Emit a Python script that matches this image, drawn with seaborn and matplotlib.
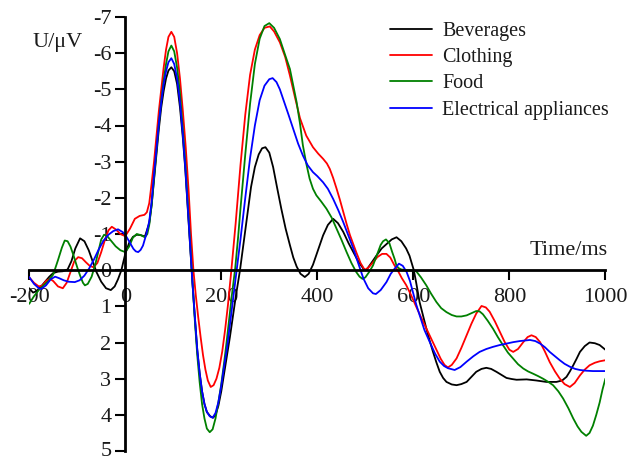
import matplotlib
matplotlib.use("Agg")
import matplotlib.pyplot as plt
import matplotlib.transforms as mtransforms
import seaborn as sns
import pandas as pd

# ---------------- data ----------------
categories = ["Beverages", "Clothing", "Food", "Electrical appliances"]
colors = ["#000000", "#ff0000", "#008000", "#0000ff"]

bev_t = [-200, -192, -185, -175, -167, -158, -150, -140, -130, -120, -112, -104, -94, -85, -76, -68, -60, -50, -40, -30,
         -22, -15, -8, 0, 8, 16, 24, 32, 41, 50, 55, 60, 65, 70, 75, 80, 85, 90, 96, 102, 108, 114, 120, 125, 130, 135,
         140, 145, 150, 155, 160, 165, 170, 177, 183, 188, 194, 200, 206, 212, 218, 224, 230, 239, 246, 254, 262, 270,
         278, 285, 292, 300, 308, 316, 325, 334, 343, 350, 357, 365, 374, 382, 391, 400, 412, 422, 433, 443, 454, 465,
         475, 485, 496, 502, 510, 523, 534, 544, 555, 565, 575, 585, 592, 601, 606, 613, 620, 627, 634, 641, 648, 655,
         662, 669, 680, 690, 700, 711, 721, 731, 742, 752, 762, 773, 784, 794, 805, 815, 836, 856, 877, 898, 910, 919,
         926, 933, 940, 947, 957, 967, 978, 988, 1000]
bev_v = [0.5, 0.62, 0.58, 0.45, 0.32, 0.18, 0.08, 0.04, 0.03, -0.02, -0.25, -0.6, -0.88, -0.8, -0.55, -0.25, 0.05, 0.32,
         0.5, 0.55, 0.45, 0.25, 0.0, -0.45, -0.75, -0.92, -0.98, -0.97, -0.93, -1.3, -1.8, -2.5, -3.2, -3.9, -4.5,
         -4.95, -5.3, -5.52, -5.61, -5.5, -5.15, -4.5, -3.65, -2.8, -1.75, -0.7, 0.35, 1.3, 2.2, 2.85, 3.35, 3.7, 3.92,
         4.04, 4.08, 4.0, 3.75, 3.35, 2.85, 2.35, 1.85, 1.3, 0.75, 0.0, -0.7, -1.5, -2.3, -2.85, -3.2, -3.37, -3.4,
         -3.25, -2.85, -2.3, -1.7, -1.15, -0.69, -0.35, -0.1, 0.1, 0.19, 0.1, -0.15, -0.5, -0.96, -1.25, -1.42, -1.3,
         -1.06, -0.75, -0.5, -0.25, -0.04, 0.0, -0.15, -0.4, -0.6, -0.72, -0.85, -0.91, -0.8, -0.6, -0.4, 0.0, 0.35,
         0.88, 1.25, 1.61, 1.95, 2.26, 2.55, 2.81, 2.98, 3.09, 3.16, 3.18, 3.15, 3.09, 2.95, 2.81, 2.73, 2.7, 2.73,
         2.81, 2.9, 2.98, 3.01, 3.03, 3.02, 3.05, 3.09, 3.09, 3.05, 2.95, 2.8, 2.63, 2.45, 2.26, 2.1, 2.0, 2.02, 2.07,
         2.2]

clo_t = [-200, -190, -180, -172, -165, -157, -150, -140, -130, -122, -114, -106, -98, -90, -82, -74, -66, -58, -50, -42,
         -35, -28, -20, -10, 0, 10, 20, 30, 40, 45, 50, 55, 60, 65, 70, 75, 80, 85, 90, 96, 102, 108, 114, 120, 126, 132,
         137, 142, 147, 152, 157, 162, 167, 172, 178, 184, 190, 196, 202, 208, 214, 221, 230, 240, 250, 260, 270, 280,
         290, 301, 310, 322, 333, 343, 354, 364, 377, 391, 402, 412, 420, 426, 433, 440, 447, 454, 461, 468, 475, 481,
         490, 499, 507, 515, 525, 535, 544, 552, 560, 568, 576, 585, 595, 606, 616, 627, 638, 648, 657, 665, 672, 680,
         690, 700, 711, 721, 731, 742, 751, 759, 770, 780, 790, 800, 808, 818, 829, 838, 846, 855, 864, 874, 884, 895,
         905, 915, 926, 936, 947, 957, 967, 978, 988, 1000]
clo_v = [0.2, 0.35, 0.45, 0.42, 0.3, 0.24, 0.3, 0.45, 0.5, 0.35, 0.05, -0.25, -0.36, -0.33, -0.22, -0.12, -0.08, -0.2,
         -0.5, -0.85, -1.1, -1.2, -1.13, -1.0, -0.94, -1.15, -1.42, -1.5, -1.53, -1.6, -1.85, -2.4, -3.0, -3.7, -4.4,
         -5.0, -5.6, -6.1, -6.45, -6.59, -6.45, -6.0, -5.3, -4.4, -3.4, -2.2, -1.0, 0.0, 0.7, 1.3, 1.85, 2.35, 2.75,
         3.05, 3.23, 3.18, 3.0, 2.7, 2.25, 1.65, 0.95, 0.0, -1.3, -2.9, -4.3, -5.4, -6.1, -6.5, -6.7, -6.74, -6.6, -6.3,
         -5.9, -5.38, -4.75, -4.2, -3.72, -3.4, -3.22, -3.08, -2.95, -2.8, -2.55, -2.26, -1.95, -1.61, -1.28, -0.97,
         -0.72, -0.5, -0.2, 0.0, -0.08, -0.2, -0.36, -0.45, -0.45, -0.35, -0.15, 0.02, 0.22, 0.41, 0.68, 1.01, 1.3,
         1.61, 1.92, 2.2, 2.45, 2.62, 2.69, 2.62, 2.44, 2.15, 1.8, 1.48, 1.2, 0.99, 1.03, 1.15, 1.42, 1.7, 1.98, 2.2,
         2.26, 2.18, 1.99, 1.85, 1.8, 1.85, 1.99, 2.25, 2.54, 2.8, 3.0, 3.15, 3.23, 3.12, 2.91, 2.75, 2.63, 2.56, 2.52,
         2.49]

foo_t = [-200, -190, -180, -170, -160, -150, -140, -132, -126, -120, -114, -108, -100, -94, -88, -84, -78, -70, -62, -56,
         -50, -44, -38, -30, -20, -10, 0, 8, 16, 24, 32, 41, 46, 50, 55, 60, 65, 70, 75, 80, 85, 90, 96, 102, 108, 114,
         120, 125, 130, 135, 140, 145, 150, 155, 160, 165, 170, 176, 182, 188, 194, 200, 206, 211, 216, 222, 229, 235,
         240, 250, 260, 270, 280, 290, 300, 310, 322, 333, 343, 350, 357, 364, 370, 377, 384, 391, 398, 408, 419, 430,
         440, 450, 461, 471, 481, 488, 494, 500, 508, 516, 525, 532, 537, 543, 550, 556, 561, 565, 570, 575, 585, 595,
         606, 616, 627, 637, 648, 658, 669, 680, 690, 700, 711, 721, 731, 738, 745, 755, 766, 776, 787, 797, 808, 818,
         829, 839, 849, 860, 870, 880, 891, 902, 912, 923, 933, 942, 950, 960, 967, 974, 981, 988, 994, 1000]
foo_v = [0.93, 0.72, 0.55, 0.42, 0.3, 0.12, -0.28, -0.62, -0.82, -0.8, -0.65, -0.42, -0.08, 0.15, 0.35, 0.42, 0.38,
         0.18, -0.18, -0.52, -0.85, -0.98, -0.95, -0.82, -0.66, -0.55, -0.5, -0.65, -0.9, -1.0, -0.97, -0.91, -1.0,
         -1.25, -1.8, -2.55, -3.3, -4.05, -4.7, -5.25, -5.7, -6.05, -6.21, -6.05, -5.6, -4.9, -3.9, -3.0, -1.9, -0.75,
         0.35, 1.4, 2.35, 3.1, 3.7, 4.1, 4.38, 4.48, 4.4, 4.1, 3.65, 3.15, 2.55, 2.0, 1.4, 0.7, -0.05, -0.9, -1.7, -3.2,
         -4.6, -5.7, -6.4, -6.75, -6.83, -6.7, -6.39, -5.95, -5.56, -5.1, -4.64, -4.05, -3.45, -2.95, -2.53, -2.25,
         -2.07, -1.9, -1.7, -1.45, -1.15, -0.85, -0.5, -0.2, 0.05, 0.18, 0.24, 0.2, 0.05, -0.13, -0.45, -0.7, -0.8,
         -0.85, -0.75, -0.5, -0.31, -0.12, -0.05, -0.02, 0.0, 0.0, 0.03, 0.2, 0.42, 0.65, 0.88, 1.05, 1.16, 1.24, 1.28,
         1.28, 1.25, 1.19, 1.13, 1.14, 1.22, 1.4, 1.62, 1.85, 2.08, 2.28, 2.45, 2.6, 2.72, 2.8, 2.86, 2.93, 3.0, 3.08,
         3.18, 3.35, 3.55, 3.82, 4.1, 4.32, 4.47, 4.58, 4.5, 4.3, 4.0, 3.66, 3.3, 3.0]

ele_t = [-200, -190, -180, -175, -165, -155, -146, -138, -128, -118, -105, -95, -85, -75, -65, -55, -45, -35, -25, -15,
         -5, 0, 8, 17, 22, 27, 32, 37, 44, 50, 55, 60, 65, 70, 75, 80, 85, 90, 96, 102, 108, 114, 120, 125, 130, 135,
         140, 145, 150, 155, 160, 165, 170, 176, 182, 188, 194, 200, 206, 212, 218, 224, 233, 240, 250, 260, 270, 280,
         290, 300, 307, 315, 322, 329, 340, 350, 360, 370, 380, 391, 400, 412, 422, 433, 444, 454, 465, 475, 485, 496,
         506, 516, 522, 532, 544, 553, 561, 570, 578, 586, 593, 599, 606, 613, 623, 634, 645, 655, 664, 672, 686, 698,
         711, 725, 738, 752, 766, 780, 794, 808, 822, 843, 854, 864, 874, 884, 895, 905, 915, 926, 937, 947, 960, 974,
         1000]
ele_v = [0.19, 0.38, 0.5, 0.52, 0.42, 0.25, 0.18, 0.22, 0.28, 0.32, 0.33, 0.28, 0.15, -0.05, -0.3, -0.58, -0.82, -0.98,
         -1.08, -1.13, -1.05, -0.98, -0.8, -0.59, -0.52, -0.5, -0.56, -0.68, -1.0, -1.35, -1.9, -2.65, -3.35, -4.05,
         -4.65, -5.15, -5.5, -5.75, -5.86, -5.7, -5.3, -4.65, -3.75, -2.85, -1.8, -0.7, 0.35, 1.3, 2.2, 2.85, 3.35,
         3.7, 3.92, 4.04, 4.08, 3.95, 3.65, 3.2, 2.65, 2.15, 1.5, 0.85, -0.1, -0.85, -2.0, -3.1, -4.0, -4.7, -5.1,
         -5.28, -5.31, -5.2, -5.0, -4.73, -4.3, -3.9, -3.5, -3.17, -2.9, -2.71, -2.6, -2.43, -2.25, -1.97, -1.65, -1.33,
         -0.95, -0.6, -0.2, 0.23, 0.5, 0.64, 0.66, 0.55, 0.33, 0.1, -0.04, -0.18, -0.12, 0.05, 0.3, 0.6, 0.95, 1.24,
         1.65, 1.98, 2.3, 2.53, 2.65, 2.71, 2.76, 2.68, 2.53, 2.38, 2.26, 2.18, 2.12, 2.07, 2.03, 1.99, 1.96, 1.93,
         1.96, 2.03, 2.13, 2.26, 2.38, 2.49, 2.59, 2.67, 2.73, 2.76, 2.78, 2.79, 2.79]

x_ticks = [-200, 0, 200, 400, 600, 800, 1000]
y_ticks = [-7, -6, -5, -4, -3, -2, -1, 0, 1, 2, 3, 4, 5]

# ---------------- build long-form table ----------------
frames = []
for name, t, v in zip(categories, [bev_t, clo_t, foo_t, ele_t], [bev_v, clo_v, foo_v, ele_v]):
    frames.append(pd.DataFrame({"Time": t, "Amp": v, "Condition": name}))
df = pd.concat(frames, ignore_index=True)

# ---------------- style ----------------
sns.set_theme(style="white")
plt.rcParams["font.family"] = ["Liberation Serif", "DejaVu Serif"]

fig = plt.figure(figsize=(6.3, 4.59), dpi=100)
ax = fig.add_axes([29.2 / 630, 1 - 451.0 / 459, (605.4 - 29.2) / 630, (451.0 - 17.0) / 459])

sns.lineplot(data=df, x="Time", y="Amp", hue="Condition", hue_order=categories,
             palette=dict(zip(categories, colors)), estimator=None, sort=False,
             linewidth=1.3, ax=ax)

ax.set_xlim(-200, 1000)
ax.set_ylim(5, -7)
ax.set_xlabel("")
ax.set_ylabel("")

for s in ["top", "right"]:
    ax.spines[s].set_visible(False)
ax.spines["left"].set_position(("data", 0))
ax.spines["bottom"].set_position(("data", 0))
for s in ["left", "bottom"]:
    ax.spines[s].set_linewidth(2.0)
    ax.spines[s].set_color("black")

ax.set_xticks(x_ticks)
ax.set_xticklabels([str(v) for v in x_ticks])
ax.set_yticks(y_ticks)
ax.set_yticklabels([str(v) for v in y_ticks])
ax.tick_params(axis="x", direction="out", length=7, width=1.5, pad=6, labelsize=16, colors="black",
               bottom=True)
ax.tick_params(axis="y", direction="out", length=7, width=1.5, pad=3, labelsize=16, colors="black",
               left=True)
for lab in ax.get_xticklabels() + ax.get_yticklabels():
    lab.set_color("#1a1a1a")
# keep the lowest y label fully inside the canvas
last = ax.get_yticklabels()[-1]
last.set_transform(last.get_transform() + mtransforms.ScaledTranslation(0, 2 / 100, fig.dpi_scale_trans))

ax.text(1004, -0.55, "Time/ms", ha="right", va="center", fontsize=16, color="#1a1a1a")
ax.text(-141, -6.3, "U/μV", ha="center", va="center", fontsize=16, color="#1a1a1a", clip_on=False)

handles, labels = ax.get_legend_handles_labels()
leg = ax.legend(handles, labels, loc="upper left", bbox_to_anchor=(390 / 630, 1 - 21.5 / 459),
                bbox_transform=fig.transFigure, frameon=False, fontsize=14.5, handlelength=2.1,
                handletextpad=0.5, labelspacing=0.36, borderpad=0, borderaxespad=0)
for h in leg.get_lines():
    h.set_linewidth(1.3)
for txt in leg.get_texts():
    txt.set_color("#1a1a1a")

fig.savefig("out.png", dpi=100)
